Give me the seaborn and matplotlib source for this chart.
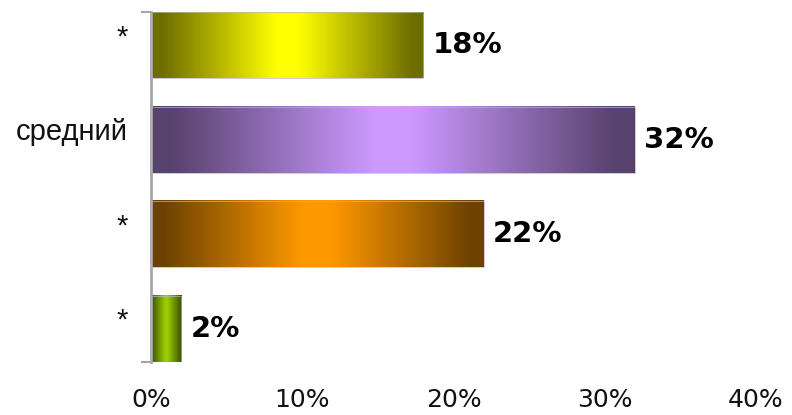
import numpy as np
import pandas as pd
import matplotlib
matplotlib.use("Agg")
import matplotlib.pyplot as plt
import seaborn as sns
from matplotlib.colors import LinearSegmentedColormap, to_rgb

# ---- data ----
categories = ["*", "средний", "*", "*"]
values = [18, 32, 22, 2]
base_colors = ["#ffff00", "#cc99ff", "#ff9900", "#99cc00"]
value_labels = ["18%", "32%", "22%", "2%"]
tick_values = [0, 10, 20, 30, 40]
tick_labels = ["0%", "10%", "20%", "30%", "40%"]

sns.set_theme(style="white")
plt.rcParams['font.family'] = ['DejaVu Sans']

df = pd.DataFrame({"key": [str(i) for i in range(len(values))],
                   "value": values})

fig = plt.figure(figsize=(7.92, 4.15), dpi=100)
ax = fig.add_axes([151/792, 1 - 362/415, (756 - 151)/792, (362 - 12)/415])

sns.barplot(data=df, x="value", y="key", hue="key", palette=base_colors,
            orient="y", width=0.7, legend=False, ax=ax, saturation=1)

# gradient fill for each bar (dark edges, bright centre)
for patch, col in zip(ax.patches, base_colors):
    x0, y0 = patch.get_x(), patch.get_y()
    w, h = patch.get_width(), patch.get_height()
    c = np.array(to_rgb(col))
    dark = c * 0.43
    cmap = LinearSegmentedColormap.from_list(
        "g", [(0.0, dark), (0.04, dark), (0.46, c), (0.54, c), (0.96, dark), (1.0, dark)])
    grad = np.linspace(0, 1, 256).reshape(1, -1)
    ax.imshow(grad, cmap=cmap, aspect="auto",
              extent=(x0, x0 + w, y0 + h, y0), zorder=2, interpolation="bilinear")
    patch.set_facecolor("none")
    patch.set_edgecolor((0.72, 0.72, 0.72, 0.7))
    patch.set_linewidth(0.7)
    patch.set_zorder(3)

ax.set_xlim(0, 40)
ax.set_ylim(3.35, -0.35)

# value labels
for i, (v, lab) in enumerate(zip(values, value_labels)):
    ax.text(v + 0.6, i, lab, va="center", ha="left", fontsize=21,
            fontweight="bold", color="black", family=["DejaVu Sans"])

# axes styling
ax.set_xlabel("")
ax.set_ylabel("")
ax.set_xticks(tick_values)
ax.set_xticklabels(tick_labels, fontsize=18, color="#111111")
ax.tick_params(axis="x", bottom=False, length=0, pad=19)

ax.set_yticks(range(len(categories)))
ax.set_yticklabels(categories, fontsize=21, family=["Liberation Sans"], color="#111111")
for t in ax.get_yticklabels():
    t.set_va("baseline")
ax.tick_params(axis="y", which="major", left=False, length=0, pad=17)
ax.set_yticks([-0.35, 3.35], minor=True)
ax.tick_params(axis="y", which="minor", left=True, length=7.5, width=1.5, color="#a6a6a6")

for s in ["top", "right", "bottom"]:
    ax.spines[s].set_visible(False)
ax.spines["left"].set_color("#a6a6a6")
ax.spines["left"].set_linewidth(2)
ax.grid(False)

fig.savefig("out.png", dpi=100, facecolor="white")
